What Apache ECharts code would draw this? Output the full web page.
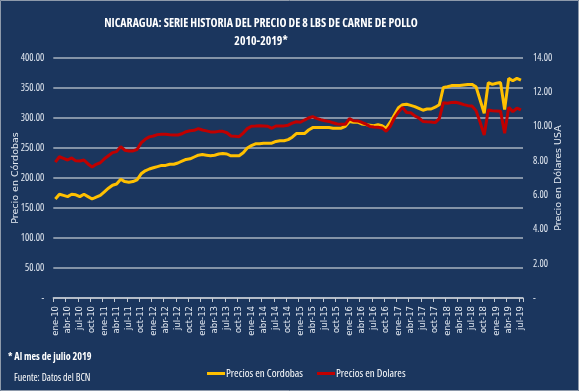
<!DOCTYPE html>
<html>
<head>
<meta charset="utf-8">
<script src="https://cdn.jsdelivr.net/npm/echarts@6/dist/echarts.min.js"></script>
<style>
html,body{margin:0;padding:0;background:#1B365E;}
#c{width:579px;height:391px;}
</style>
</head>
<body>
<div id="c"></div>
<script>
const meses = ['ene','feb','mar','abr','may','jun','jul','ago','sep','oct','nov','dic'];
const anios = ['10','11','12','13','14','15','16','17','18','19'];
const ultimoMes = 'jul-19';
const categorias = [];
outer: for (const a of anios) { for (const m of meses) { categorias.push(m + '-' + a); if (m + '-' + a === ultimoMes) break outer; } }

const preciosCordobas = [
  165,173,171,169,173,172,169,173,169,165,168,171,
  177,183,188,190,198,194,193,194,197,207,212,215,
  217,219,221,221,223,223,225,228,231,232,235,238,
  239,238,237,238,240,241,240,237,237,237,242,250,
  254,257,257,258,258,258,261,262,262,264,268,274,
  274,274,280,284,284,284,284,284,283,283,283,286,
  294,293,293,290,289,288,287,289,287,283,293,305,
  317,322,323,321,319,316,313,315,315,318,322,351,
  352,354,354,354,355,356,356,352,330,308,359,356,
  358,359,314,366,362,366,363
];
const preciosDolares = [
  7.92,8.24,8.15,8.05,8.17,8.00,7.99,8.05,7.82,7.64,7.80,7.89,
  8.12,8.30,8.48,8.54,8.83,8.62,8.57,8.58,8.66,9.05,9.26,9.40,
  9.45,9.53,9.55,9.55,9.52,9.51,9.51,9.58,9.70,9.76,9.78,9.88,
  9.80,9.75,9.69,9.68,9.72,9.72,9.64,9.45,9.43,9.41,9.62,9.88,
  10.02,10.03,10.05,10.04,10.02,9.90,10.03,10.03,10.04,10.08,10.20,10.28,
  10.25,10.38,10.50,10.58,10.48,10.40,10.34,10.30,10.22,10.15,10.14,10.13,
  10.46,10.34,10.33,10.25,10.15,10.01,9.98,9.96,9.92,9.72,10.02,10.50,
  10.85,11.12,10.82,10.81,10.62,10.50,10.30,10.28,10.27,10.23,10.46,11.39,
  11.36,11.40,11.42,11.36,11.28,11.22,11.20,10.93,10.25,9.51,10.97,10.92,
  10.91,10.90,9.61,11.12,10.87,11.07,10.97
];
const ejeCordobas = {min:0, max:400, interval:50};
const ejeDolares = {min:0, max:14, interval:2};

const cond = "'Open Sans', sans-serif";
const wide = "'DejaVu Sans', sans-serif";
const txt = '#E4EAF2';
const fmt = v => v === 0 ? '-' : v.toFixed(2);

const chart = echarts.init(document.getElementById('c'), null, {renderer:'canvas'});
chart.setOption({
  backgroundColor: '#1B365E',
  animation: false,
  grid: {left:53.3, right:56, top:58, bottom:93, outerBoundsMode:'none', containLabel:false},
  legend: {
    left: 202, top: 363, itemWidth: 18, itemHeight: 3, itemGap: 14, icon: 'rect',
    textStyle: {color:'#FFFFFF', fontFamily: cond, fontStyle:'condensed', fontSize: 11, padding:[0,0,0,-4]},
    data: ['Precios en Cordobas','Precios en Dolares']
  },
  xAxis: {
    type:'category', data: categorias, boundaryGap: true,
    axisLine: {lineStyle:{color:'#C4CAD3', width:1.5}},
    axisTick: {show:true, interval:2, length:4, lineStyle:{color:'#C4CAD3', width:1}},
    axisLabel: {interval:2, rotate:90, margin:8, color: txt, fontFamily: wide, fontSize: 8.5},
    splitLine: {show:false}
  },
  yAxis: [
    {
      type:'value', min:ejeCordobas.min, max:ejeCordobas.max, interval:ejeCordobas.interval,
      name:'Precio en Córdobas', nameLocation:'middle', nameGap:33, nameRotate:90, nameMoveOverlap:false,
      nameTextStyle:{color: txt, fontFamily: wide, fontSize: 9.5},
      axisLine:{show:false}, axisTick:{show:false},
      axisLabel:{formatter: fmt, color: txt, fontFamily: cond, fontStyle:'condensed', fontSize: 10, margin: 9},
      splitLine:{lineStyle:{color:'#A9B3C1', width:1.5}}
    },
    {
      type:'value', min:ejeDolares.min, max:ejeDolares.max, interval:ejeDolares.interval, position:'right',
      name:'Precio en Dólares USA', nameLocation:'middle', nameGap:31, nameRotate:90, nameMoveOverlap:false,
      nameTextStyle:{color: txt, fontFamily: wide, fontSize: 9.5},
      axisLine:{show:false}, axisTick:{show:false},
      axisLabel:{formatter: fmt, color: txt, fontFamily: cond, fontStyle:'condensed', fontSize: 10, margin: 10},
      splitLine:{show:false}
    }
  ],
  series: [
    {name:'Precios en Cordobas', type:'line', yAxisIndex:0, data: preciosCordobas, showSymbol:false, symbol:'none',
     lineStyle:{color:'#FFC000', width:3}, itemStyle:{color:'#FFC000'}},
    {name:'Precios en Dolares', type:'line', yAxisIndex:1, data: preciosDolares, showSymbol:false, symbol:'none',
     lineStyle:{color:'#C00000', width:3}, itemStyle:{color:'#C00000'}}
  ],
  graphic: [
    {type:'rect', shape:{x:0.5, y:0.5, width:578, height:390}, style:{fill:'none', stroke:'#8E9AAB', lineWidth:1}, silent:true},
    {type:'text', x:261, y:23, scaleX:0.91, originX:0,
     style:{text:'NICARAGUA: SERIE HISTORIA DEL PRECIO DE 8 LBS DE CARNE DE POLLO', fill:'#FFFFFF', align:'center', verticalAlign:'middle', font:"condensed bold 13px " + cond}},
    {type:'text', x:261, y:41, scaleX:0.91, originX:0,
     style:{text:'2010-2019*', fill:'#FFFFFF', align:'center', verticalAlign:'middle', font:"condensed bold 13px " + cond}},
    {type:'text', x:8, y:357, scaleX:0.92, originX:0,
     style:{text:'* Al mes de julio 2019', fill:'#FFFFFF', verticalAlign:'middle', font: "condensed bold 11px " + cond}},
    {type:'text', x:14, y:378,
     style:{text:'Fuente: Datos del BCN', fill:'#FFFFFF', verticalAlign:'middle', font: "condensed 10px " + cond}}
  ]
});
</script>
</body>
</html>
